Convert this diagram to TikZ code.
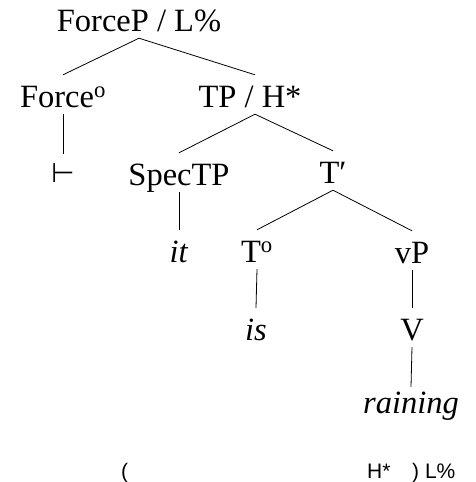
\documentclass[tikz,border=0pt]{standalone}
\usepackage{fontspec}
\setmainfont{Liberation Serif}
\newfontfamily\botfont{Liberation Sans}
\newfontfamily\symfont{DejaVu Sans}
\begin{document}
\begin{tikzpicture}[x=1pt,y=-1pt,
  lab/.style={font=\fontsize{32.5}{36}\selectfont, inner xsep=0pt, inner ysep=0pt, text height=32pt, text depth=7pt, anchor=base},
  bot/.style={font=\botfont\fontsize{21}{24}\selectfont, inner sep=0pt, anchor=base west},
  br/.style={line width=0.8pt}]
\useasboundingbox (0,0) rectangle (476,482);
\node[lab] (forcep) at (139,31) {ForceP / L\%};
\node[lab] (force) at (63,107) {Force\textsuperscript{o}};
\node[lab] (tp) at (250,107) {TP / H*};
\node[lab, font=\symfont\fontsize{27}{30}\selectfont, text height=28pt] (vd) at (63,182) {⊢};
\node[lab] (spec) at (179,185) {SpecTP};
\node[lab] (tbar) at (333,183) {T′};
\node[lab] (it) at (179,262) {\textit{it}};
\node[lab] (to) at (257,262) {T\textsuperscript{o}};
\node[lab] (vp) at (412,263) {vP};
\node[lab] (is) at (256,340) {\textit{is}};
\node[lab] (v) at (412,340) {V};
\node[lab, text height=26pt] (rain) at (411,413) {\textit{raining}};
\node[bot] (lp) at (121,478) {(};
\node[bot] (hs) at (367,478) {H*};
\node[bot] (rp) at (412,478) {) L\%};
\draw[br] (forcep.south) -- (force.north);
\draw[br] (forcep.south) -- ([xshift=5pt]tp.north);
\draw[br] (force.south) -- (vd.north);
\draw[br] ([xshift=5pt]tp.south) -- (spec.north);
\draw[br] ([xshift=5pt]tp.south) -- (tbar.north);
\draw[br] (spec.south) -- (it.north);
\draw[br] (tbar.south) -- (to.north);
\draw[br] (tbar.south) -- (vp.north);
\draw[br] (to.south) -- (is.north);
\draw[br] (vp.south) -- (v.north);
\draw[br] (v.south) -- (rain.north);
\end{tikzpicture}
\end{document}
